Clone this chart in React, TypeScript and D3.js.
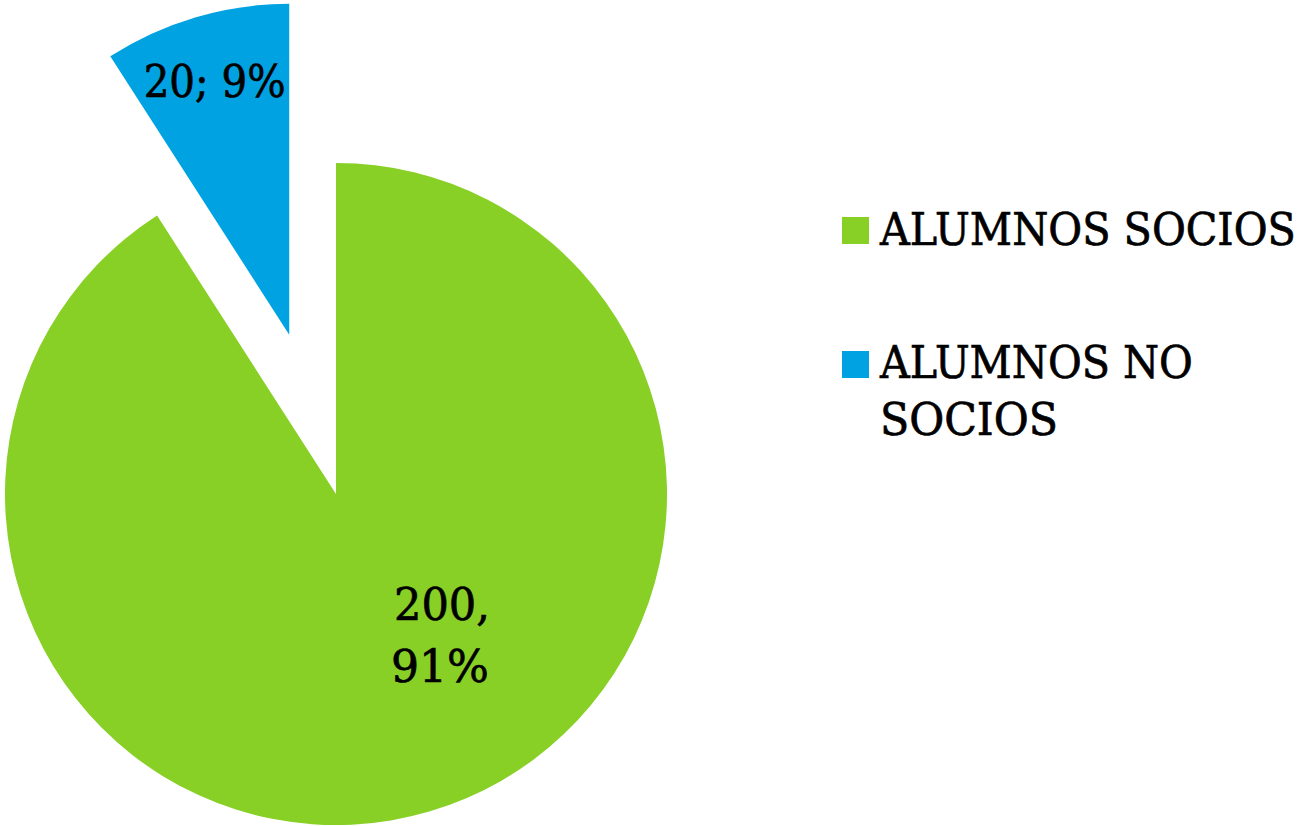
import React, { useLayoutEffect, useRef } from "react";
import * as d3 from "d3";

const categories = ["ALUMNOS SOCIOS", "ALUMNOS NO SOCIOS"];
const values = [200, 20];
const percentLabels = ["91%", "9%"];
const colors = ["#88CF26", "#00A2E2"];

const W = 1302;
const H = 826;
const cx = 336;
const cy = 494;
const R = 331;
const explode = [0, 166];
const FONT = "'DejaVu Serif', serif";

type FitProps = {
  x: number;
  y: number;
  width: number;
  anchor?: "start" | "middle";
  children: React.ReactNode;
};

// Text horizontally scaled so that its drawn width equals `width`
function FitText({ x, y, width, anchor = "start", children }: FitProps) {
  const ref = useRef<SVGTextElement>(null);
  const gRef = useRef<SVGGElement>(null);
  useLayoutEffect(() => {
    if (!ref.current || !gRef.current) return;
    const natural = ref.current.getComputedTextLength();
    const sx = natural > 0 ? width / natural : 1;
    gRef.current.setAttribute("transform", `translate(${x},${y}) scale(${sx},1)`);
  }, [x, y, width]);
  return (
    <g ref={gRef} transform={`translate(${x},${y})`}>
      <text
        ref={ref}
        x={0}
        y={0}
        textAnchor={anchor}
        fontFamily={FONT}
        fontSize={45}
        fill="#000"
        stroke="#000"
        strokeWidth={0.7}
      >
        {children}
      </text>
    </g>
  );
}

export default function App() {
  const pie = d3
    .pie<number>()
    .sort(null)
    .startAngle(0)
    .endAngle(2 * Math.PI)
    .value((d) => d);
  const arcs = pie(values);
  const arc = d3.arc<d3.PieArcDatum<number>>().innerRadius(0).outerRadius(R);

  const offsets = arcs.map((a, i) => {
    const mid = (a.startAngle + a.endAngle) / 2;
    return [Math.sin(mid) * explode[i], -Math.cos(mid) * explode[i]];
  });

  const blueMid = (arcs[1].startAngle + arcs[1].endAngle) / 2;
  const blueLabelX = cx + offsets[1][0] + Math.sin(blueMid) * 0.8 * R;
  const greenLabel = { x: cx + 104, y: 620 };

  return (
    <svg
      width={W}
      height={H}
      style={{ position: "absolute", left: 0, top: 0, background: "#fff" }}
    >
      {arcs.map((a, i) => (
        <path
          key={categories[i]}
          d={arc(a) || ""}
          fill={colors[i]}
          transform={`translate(${cx + offsets[i][0]},${cy + offsets[i][1]})`}
        />
      ))}
      <FitText x={greenLabel.x + 2} y={greenLabel.y} width={96} anchor="middle">
        {`${values[0]},`}
      </FitText>
      <FitText x={greenLabel.x} y={greenLabel.y + 62} width={98} anchor="middle">
        {percentLabels[0]}
      </FitText>
      <FitText x={blueLabelX} y={97} width={142} anchor="middle">
        {`${values[1]}; ${percentLabels[1]}`}
      </FitText>
      <g>
        <rect x={842} y={217} width={27} height={27} fill={colors[0]} />
        <FitText x={880} y={245} width={416}>
          {categories[0]}
        </FitText>
        <rect x={842} y={351} width={27} height={27} fill={colors[1]} />
        <FitText x={880} y={378} width={313}>
          ALUMNOS NO
        </FitText>
        <FitText x={880} y={435} width={178}>
          SOCIOS
        </FitText>
      </g>
    </svg>
  );
}
